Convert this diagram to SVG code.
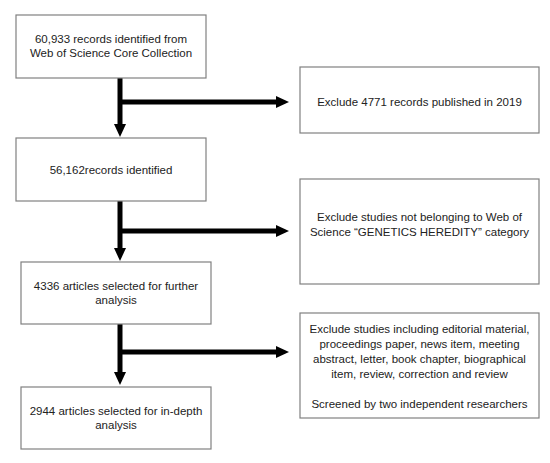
<svg xmlns="http://www.w3.org/2000/svg" width="550" height="463" viewBox="0 0 550 463">
<style>
.box{fill:#fff;stroke:#808080;stroke-width:1.2}
.t{font-family:"Liberation Sans",Arial,sans-serif;font-size:11.5px;fill:#222;text-anchor:middle}
.ln{stroke:#000;stroke-width:5;fill:none}
</style>
<defs>
<marker id="ah" markerUnits="userSpaceOnUse" markerWidth="14" markerHeight="14" refX="1" refY="7" orient="auto">
<path d="M0,1 L13,7 L0,13 Z" fill="#000"/>
</marker>
</defs>
<rect width="550" height="463" fill="#fff"/>
<g id="connectors">
<path class="ln" d="M120,78 V125" marker-end="url(#ah)"/>
<path class="ln" d="M120,102 H277" marker-end="url(#ah)"/>
<path class="ln" d="M120,201 V249" marker-end="url(#ah)"/>
<path class="ln" d="M120,231 H277" marker-end="url(#ah)"/>
<path class="ln" d="M120,324 V373" marker-end="url(#ah)"/>
<path class="ln" d="M120,352 H277" marker-end="url(#ah)"/>
</g>
<g id="n1">
<rect class="box" x="16" y="15" width="190" height="63"/>
<text class="t" x="111" y="43">60,933 records identified from</text>
<text class="t" x="111" y="57">Web of Science Core Collection</text>
</g>
<g id="n2">
<rect class="box" x="16" y="138" width="190" height="63"/>
<text class="t" x="111" y="174">56,162records identified</text>
</g>
<g id="n3">
<rect class="box" x="21" y="262" width="190" height="62"/>
<text class="t" x="116" y="290">4336 articles selected for further</text>
<text class="t" x="116" y="304">analysis</text>
</g>
<g id="n4">
<rect class="box" x="21" y="387" width="190" height="62"/>
<text class="t" x="116" y="415">2944 articles selected for in-depth</text>
<text class="t" x="116" y="429">analysis</text>
</g>
<g id="e1">
<rect class="box" x="300" y="67" width="239" height="66"/>
<text class="t" x="419.5" y="106">Exclude 4771 records published  in 2019</text>
</g>
<g id="e2">
<rect class="box" x="300" y="179" width="239" height="105"/>
<text class="t" x="419.5" y="221">Exclude studies not belonging to Web of</text>
<text class="t" x="419.5" y="236">Science “GENETICS HEREDITY” category</text>
</g>
<g id="e3">
<rect class="box" x="300" y="313" width="239" height="105"/>
<text class="t" x="419.5" y="333">Exclude studies including  editorial material,</text>
<text class="t" x="419.5" y="348">proceedings paper, news item, meeting</text>
<text class="t" x="419.5" y="363">abstract, letter, book chapter, biographical</text>
<text class="t" x="419.5" y="378">item, review, correction and review</text>
<text class="t" x="419.5" y="408">Screened by two independent  researchers</text>
</g>
</svg>
